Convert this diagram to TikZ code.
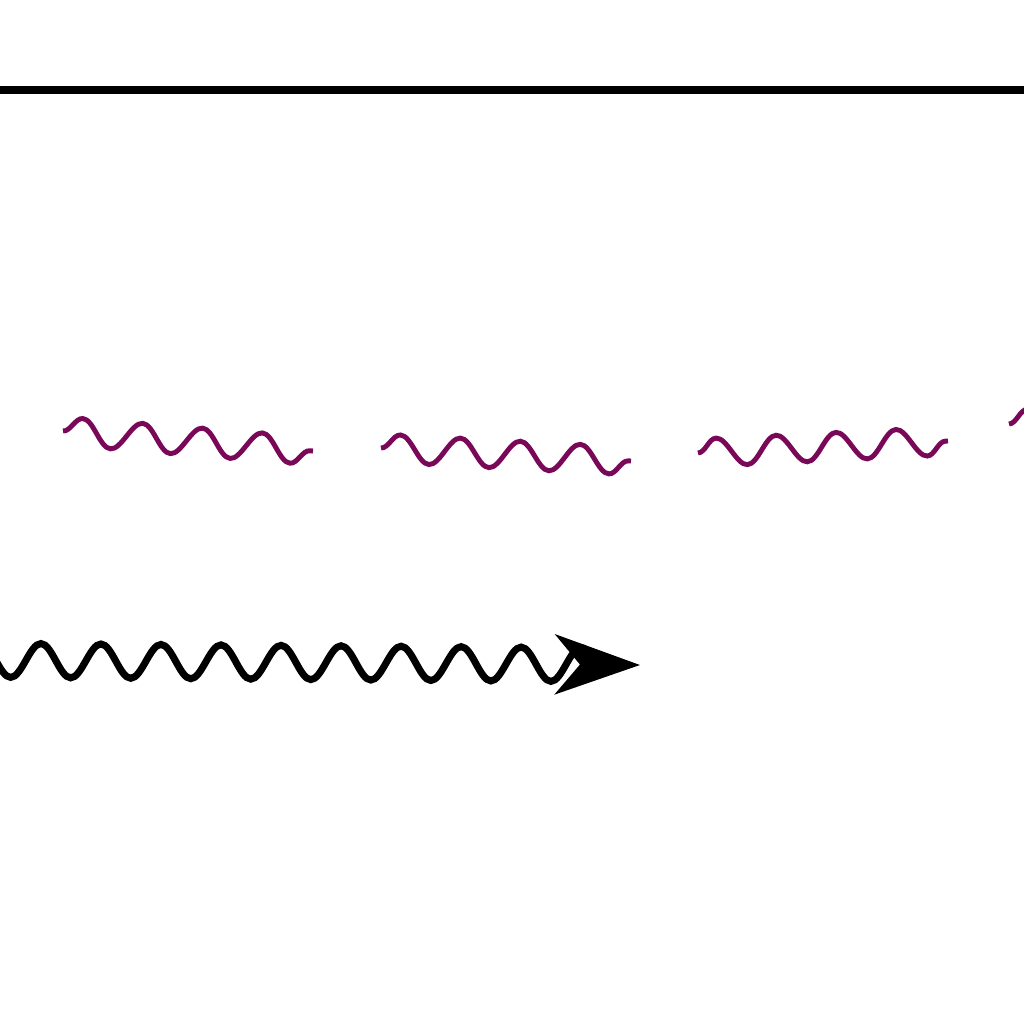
\documentclass[tikz,border=0pt]{standalone}
\usetikzlibrary{decorations.pathmorphing,arrows.meta}
\definecolor{gluon}{RGB}{122,8,88}
\begin{document}
\begin{tikzpicture}[x=0.01cm,y=-0.01cm,
  wavy/.style={draw=gluon,line width=1.4pt,decorate,
    decoration={snake,amplitude=0.14cm,segment length=0.6cm}},
  wavyarrow/.style={draw=black,line width=2pt,decorate,
    decoration={snake,amplitude=0.17cm,segment length=0.6cm,post length=0.25cm},
    -{Stealth[length=0.85cm,width=0.6cm,inset=0.25cm]}}]
\useasboundingbox (0,0) rectangle (1024,1024);
\coordinate (l1) at (-10,90);
\coordinate (r1) at (1034,90);
\draw[line width=2.3pt] (l1) -- (r1);
\coordinate (a1) at (63,431);
\coordinate (b1) at (313,451);
\coordinate (a2) at (381,448);
\coordinate (b2) at (631,461);
\coordinate (a3) at (698,453);
\coordinate (b3) at (948,441);
\coordinate (a4) at (1009,424);
\coordinate (b4) at (1259,415);
\draw[wavy] (a1) -- (b1);
\draw[wavy] (a2) -- (b2);
\draw[wavy] (a3) -- (b3);
\draw[wavy] (a4) -- (b4);
\coordinate (s) at (-38,660);
\coordinate (t) at (640,665);
\draw[wavyarrow] (s) -- (t);
\end{tikzpicture}
\end{document}
